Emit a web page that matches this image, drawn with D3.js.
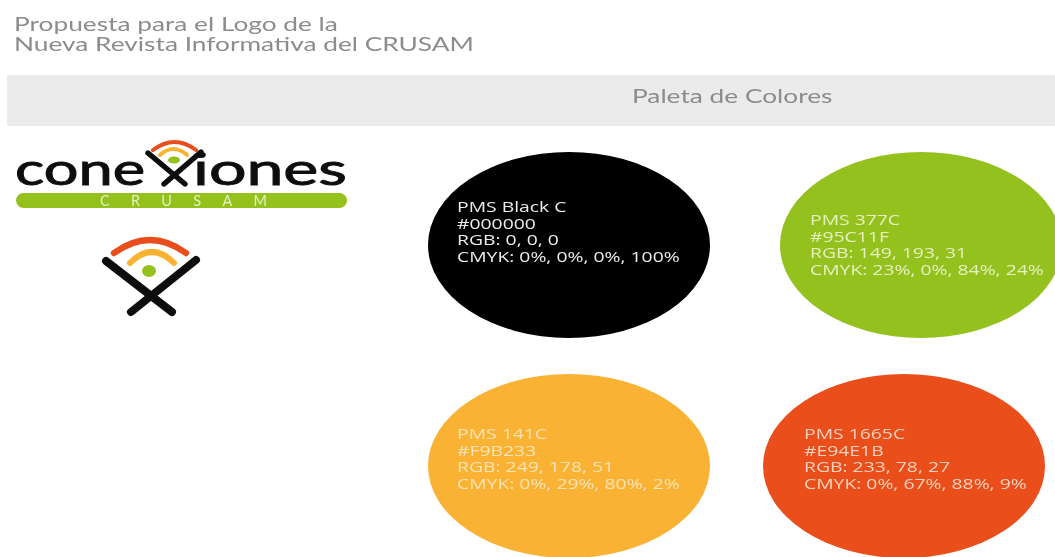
<!DOCTYPE html>
<html>
<head>
<meta charset="utf-8">
<script src="https://cdn.jsdelivr.net/npm/d3@7"></script>
<style>
  html, body { margin: 0; padding: 0; background: #fff; overflow: hidden; }
  svg { display: block; }
  .head { font-family: Lato, sans-serif; fill: #8c8c8c; }
  .swatch-text { font-family: "Open Sans", sans-serif; font-size: 14.6px; }
</style>
</head>
<body>
<div id="chart"></div>
<script>
var titleLines = ["Propuesta para el Logo de la", "Nueva Revista Informativa del CRUSAM"];
var panelTitle = "Paleta de Colores";

var names = ["PMS Black C", "PMS 377C", "PMS 141C", "PMS 1665C"];
var hexes = ["#000000", "#95C11F", "#F9B233", "#E94E1B"];
var rgbs  = ["0, 0, 0", "149, 193, 31", "249, 178, 51", "233, 78, 27"];
var cmyks = ["0%, 0%, 0%, 100%", "23%, 0%, 84%, 24%", "0%, 29%, 80%, 2%", "0%, 67%, 88%, 9%"];

var width = 1055, height = 557;

var svg = d3.select("#chart").append("svg")
  .attr("width", width)
  .attr("height", height);

// the source is a soft, upscaled picture
var defs = svg.append("defs");
defs.append("filter").attr("id", "soft")
  .append("feGaussianBlur").attr("stdDeviation", 0.45);

var cx = d3.scaleOrdinal().domain(names).range([569, 921, 569, 904]);
var cy = d3.scaleOrdinal().domain(names).range([245, 245, 466, 466]);
var rx = d3.scaleOrdinal().domain(names).range([141, 141, 141, 141]);
var ry = d3.scaleOrdinal().domain(names).range([93, 93, 92, 92]);
var textX = d3.scaleOrdinal().domain(names).range([457, 810, 457, 804]);
var textY = d3.scaleOrdinal().domain(names).range([212, 225, 439, 439]);
var fill = d3.scaleOrdinal().domain(names).range(hexes);
var textFill = d3.scaleOrdinal().domain(names).range(["#ececec", "#e6f0c0", "#fbe3b4", "#f5d2bd"]);

// widen a text by a factor, the source image was stretched sideways
function stretch(sel, k) {
  sel.each(function() {
    var len = this.getComputedTextLength();
    d3.select(this)
      .attr("textLength", len * k)
      .attr("lengthAdjust", "spacingAndGlyphs");
  });
}

// header
svg.append("g").attr("filter", "url(#soft)")
  .selectAll("text")
  .data(titleLines)
  .enter().append("text")
  .attr("class", "head")
  .attr("x", 14)
  .attr("y", function(d, i) { return 31 + i * 20; })
  .style("font-size", "19.3px")
  .text(function(d) { return d; })
  .call(stretch, 1.362);

svg.append("rect")
  .attr("x", 7).attr("y", 75)
  .attr("width", width - 7).attr("height", 51)
  .attr("fill", "#ebebeb");

svg.append("text")
  .attr("class", "head")
  .attr("filter", "url(#soft)")
  .attr("x", 632).attr("y", 103)
  .style("font-size", "18.5px")
  .text(panelTitle)
  .call(stretch, 1.42);

// colour circles
var swatch = svg.selectAll(".swatch")
  .data(names)
  .enter().append("g")
  .attr("class", "swatch");

swatch.append("ellipse")
  .attr("cx", function(d) { return cx(d); })
  .attr("cy", function(d) { return cy(d); })
  .attr("rx", function(d) { return rx(d); })
  .attr("ry", function(d) { return ry(d); })
  .attr("fill", function(d) { return fill(d); });

swatch.each(function(d, i) {
  var lines = [d, hexes[i], "RGB: " + rgbs[i], "CMYK: " + cmyks[i]];
  d3.select(this).append("g").attr("filter", "url(#soft)")
    .selectAll("text")
    .data(lines)
    .enter().append("text")
    .attr("class", "swatch-text")
    .attr("x", textX(d))
    .attr("y", function(l, j) { return textY(d) + j * 16.6; })
    .attr("fill", textFill(d))
    .text(function(l) { return l; })
    .call(stretch, 1.325);
});

// logo pieces
function arc(g, x0, x1, yEnd, yPeak, color, w) {
  var p = d3.path();
  p.moveTo(x0, yEnd);
  p.quadraticCurveTo((x0 + x1) / 2, 2 * yPeak - yEnd, x1, yEnd);
  g.append("path").attr("d", p.toString())
    .attr("fill", "none")
    .attr("stroke", color)
    .attr("stroke-width", w)
    .attr("stroke-linecap", "round");
}

function stick(g, x0, y0, x1, y1, w) {
  g.append("line")
    .attr("x1", x0).attr("y1", y0)
    .attr("x2", x1).attr("y2", y1)
    .attr("stroke", "#111")
    .attr("stroke-width", w)
    .attr("stroke-linecap", "round");
}

function logoWord(g, x, len, word) {
  g.append("text")
    .attr("x", x).attr("y", 185)
    .attr("textLength", len)
    .attr("lengthAdjust", "spacingAndGlyphs")
    .style("font-family", "Lato, sans-serif")
    .style("font-size", "44px")
    .attr("fill", "#111")
    .attr("stroke", "#111")
    .attr("stroke-width", 0.9)
    .text(word);
}

var logo = svg.append("g").attr("filter", "url(#soft)");

arc(logo, 153, 196, 150, 142, hexes[3], 4);
arc(logo, 160, 187, 155, 149, hexes[2], 4);
logo.append("ellipse").attr("cx", 174).attr("cy", 160)
  .attr("rx", 6).attr("ry", 3.6).attr("fill", hexes[1]);
stick(logo, 148, 153, 185, 184, 5.4);
stick(logo, 201, 152, 164, 184, 5.4);

logoWord(logo, 15, 130, "cone");
logoWord(logo, 193, 154, "iones");

logo.append("rect")
  .attr("x", 16).attr("y", 193)
  .attr("width", 331).attr("height", 15)
  .attr("rx", 7.5)
  .attr("fill", hexes[1]);

logo.append("text")
  .attr("x", 100).attr("y", 205.5)
  .attr("textLength", 167)
  .style("font-family", "Lato, sans-serif")
  .style("font-size", "14.5px")
  .attr("fill", "#e4f0bd")
  .text("CRUSAM");

// small mark
arc(logo, 114, 186, 253, 240, hexes[3], 6.4);
arc(logo, 130, 174, 263, 252, hexes[2], 6);
logo.append("ellipse").attr("cx", 149).attr("cy", 271)
  .attr("rx", 7).attr("ry", 6).attr("fill", hexes[1]);
stick(logo, 106, 261, 172, 312, 8);
stick(logo, 196, 260, 131, 312, 8);
</script>
</body>
</html>
